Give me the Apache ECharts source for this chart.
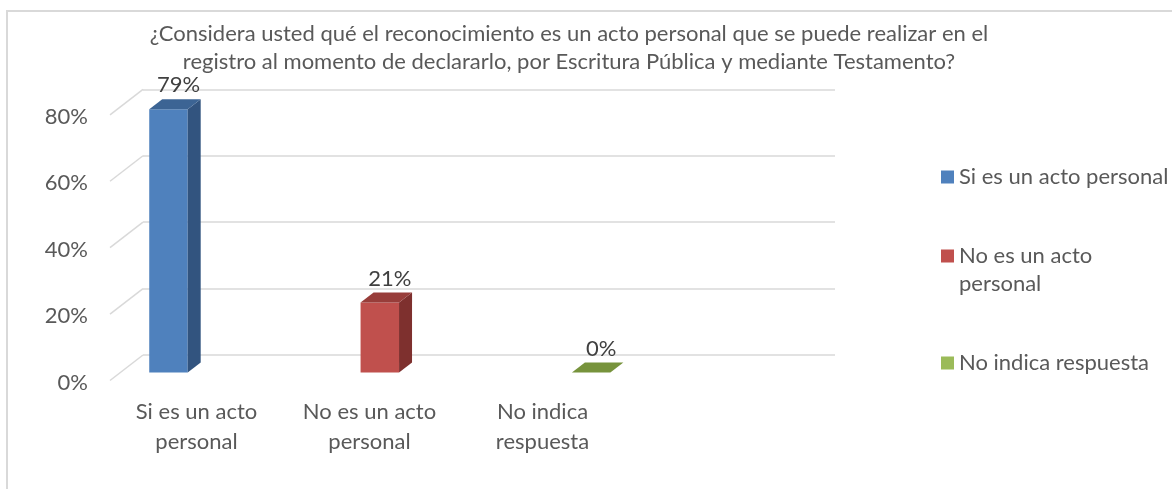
<!DOCTYPE html>
<html>
<head>
<meta charset="utf-8">
<script src="https://cdn.jsdelivr.net/npm/echarts@6/dist/echarts.min.js"></script>
<style>
html,body{margin:0;padding:0;background:#fff;}
#c{width:1172px;height:489px;}
</style>
</head>
<body>
<div id="c"></div>
<script>
const titleText = '¿Considera usted qué el reconocimiento es un acto personal que se puede realizar en el\nregistro al momento de declararlo, por Escritura Pública y mediante Testamento?';
const categories = ['Si es un acto personal', 'No es un acto personal', 'No indica respuesta'];
const values = [79, 21, 0];
const tickLabels = ['Si es un acto\npersonal', 'No es un acto\npersonal', 'No indica\nrespuesta'];
const legendLabels = ['Si es un acto personal', 'No es un acto\npersonal', 'No indica respuesta'];
const yTicks = [0, 20, 40, 60, 80];
const frontColors = ['#4F81BD', '#C0504D', '#9BBB59'];
const topColors = ['#3C6494', '#983D3A', '#77933C'];
const sideColors = ['#32547F', '#7E302E', '#637C32'];

const FONT = 'Lato';
const FS = 22;
const TXT = '#595959';
const GRIDC = '#d9d9d9';
const yMax = yTicks[yTicks.length - 1];
const yStep = yTicks[1] - yTicks[0];
const DX = 13, DY = -10;          // bar depth
const FDX = -33, FDY = 25.5;      // floor depth (back wall -> front)
const BAR_RATIO = 0.182;

function barRender(i) {
  return function (params, api) {
    const x = api.value(0), v = api.value(1);
    const top = api.coord([x, v]);
    const base = api.coord([x, 0]);
    const w = api.size([1, 0])[0] * BAR_RATIO;
    const xl = top[0] - w / 2, xr = top[0] + w / 2, yt = top[1], yb = base[1];
    const children = [];
    if (yb - yt > 0.5) {
      children.push({type: 'rect', shape: {x: xl, y: yt, width: w, height: yb - yt}, style: {fill: frontColors[i]}});
      children.push({type: 'polygon', shape: {points: [[xr, yt], [xr + DX, yt + DY], [xr + DX, yb + DY], [xr, yb]]}, style: {fill: sideColors[i]}});
    }
    children.push({type: 'polygon', shape: {points: [[xl, yt], [xl + DX, yt + DY], [xr + DX, yt + DY], [xr, yt]]}, style: {fill: topColors[i]}});
    children.push({type: 'text', style: {text: v + '%', x: top[0] + 10, y: yt - 24, align: 'center', verticalAlign: 'middle', fill: '#404040', fontSize: FS, fontFamily: FONT}});
    return {type: 'group', children: children};
  };
}

function diagRender(params, api) {
  const p = api.coord([0, api.value(1)]);
  return {type: 'line', shape: {x1: p[0], y1: p[1], x2: p[0] + FDX, y2: p[1] + FDY}, style: {stroke: GRIDC, lineWidth: 1.5}};
}

const legendTops = [163, 242, 349];
// square icon at the top of a taller box so multi-line text starts beside it
const tallIcon = 'path://M0,0h13v13h-13z M0,41h0.01v0.01h-0.01z';

const option = {
  animation: false,
  backgroundColor: '#ffffff',
  textStyle: {fontFamily: FONT},
  graphic: [{
    type: 'rect', silent: true, z: 0,
    shape: {x: 7, y: 11, width: 1400, height: 800},
    style: {fill: 'none', stroke: GRIDC, lineWidth: 2}
  }],
  title: {
    text: titleText,
    left: 569, top: 19.5, padding: 0,
    textAlign: 'center', textVerticalAlign: 'top',
    textStyle: {color: TXT, fontSize: FS, fontFamily: FONT, fontWeight: 'normal', lineHeight: 28}
  },
  legend: categories.map((name, i) => ({
    orient: 'vertical', left: 941, top: legendTops[i], padding: 0,
    itemWidth: 13, itemHeight: legendLabels[i].indexOf('\n') >= 0 ? 41 : 13,
    itemGap: 0, selectedMode: false,
    data: [{name: name, icon: legendLabels[i].indexOf('\n') >= 0 ? tallIcon : 'rect'}],
    formatter: () => legendLabels[i],
    textStyle: {color: TXT, fontSize: FS, fontFamily: FONT, lineHeight: 28, width: 240, overflow: 'none'}
  })),
  grid: [
    {left: 143, right: 337, top: 89.3, bottom: 134, outerBoundsMode: 'none'},
    {left: 110, right: 543, top: 116.7, bottom: 106.3, outerBoundsMode: 'none'},
    {left: 62.8, right: 475.2, top: 106, bottom: 116.5, outerBoundsMode: 'none'}
  ],
  xAxis: [
    {gridIndex: 0, type: 'value', min: 0, max: 1, show: false},
    {gridIndex: 1, type: 'category', data: categories,
      axisLine: {show: false}, axisTick: {show: false}, splitLine: {show: false},
      axisLabel: {interval: 0, formatter: (v, i) => tickLabels[i], color: TXT, fontSize: FS, fontFamily: FONT, lineHeight: 30, margin: 14}},
    {gridIndex: 2, type: 'category', data: categories, show: false}
  ],
  yAxis: [
    {gridIndex: 0, type: 'value', min: 0, max: yMax, interval: yStep,
      axisLabel: {show: false}, axisLine: {show: false}, axisTick: {show: false},
      splitLine: {show: true, lineStyle: {color: GRIDC, width: 1.5}}},
    {gridIndex: 1, type: 'value', min: 0, max: yMax, interval: yStep,
      axisLine: {show: false}, axisTick: {show: false}, splitLine: {show: false},
      axisLabel: {formatter: '{value}%', color: TXT, fontSize: FS, fontFamily: FONT, margin: 22}},
    {gridIndex: 2, type: 'value', min: 0, max: yMax, show: false}
  ],
  series: [
    {type: 'custom', name: 'floor', xAxisIndex: 0, yAxisIndex: 0, silent: true, z: 1,
      data: yTicks.map(v => [0, v]), renderItem: diagRender}
  ].concat(categories.map((name, i) => ({
    type: 'custom', name: name, xAxisIndex: 2, yAxisIndex: 2, z: 2,
    itemStyle: {color: frontColors[i]},
    data: [[i, values[i]]],
    renderItem: barRender(i)
  })))
};

const chart = echarts.init(document.getElementById('c'), null, {renderer: 'canvas'});
chart.setOption(option);
</script>
</body>
</html>
